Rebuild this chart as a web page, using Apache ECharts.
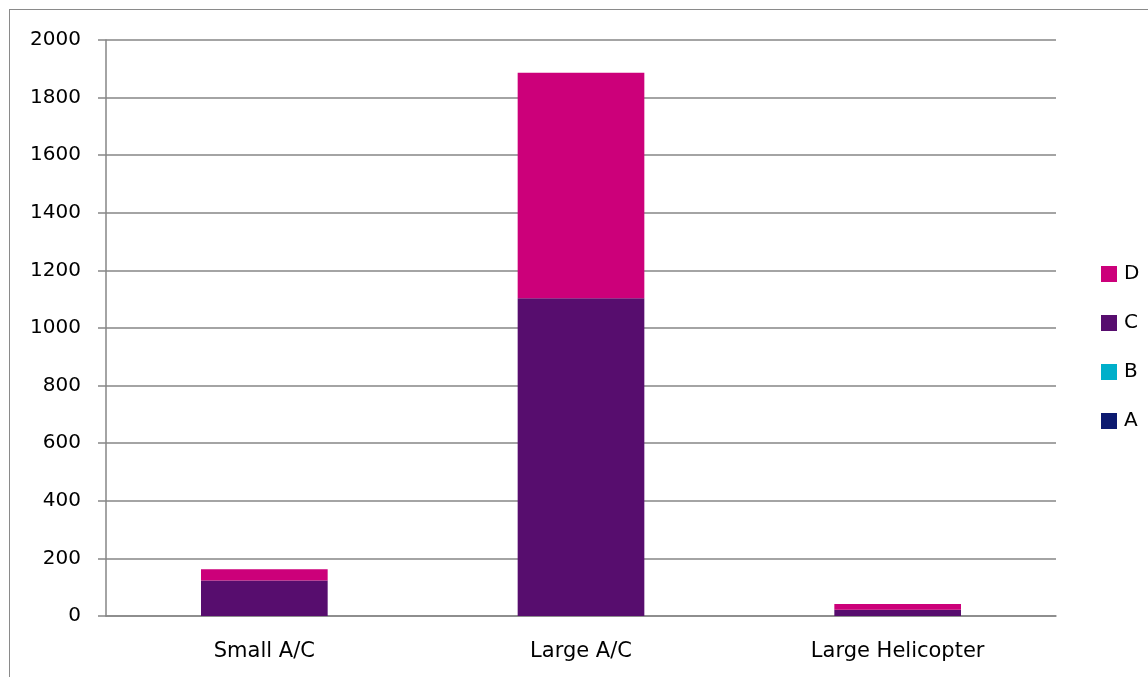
<!DOCTYPE html>
<html><head><meta charset="utf-8">
<script src="https://cdn.jsdelivr.net/npm/echarts@6/dist/echarts.min.js"></script>
<style>
html,body{margin:0;padding:0;background:#fff;}
#frame{position:absolute;left:9px;top:9px;width:1150px;height:680px;border:1px solid #8a8a8a;box-sizing:border-box;}
#chart{position:absolute;left:0;top:0;width:1148px;height:677px;}
</style></head>
<body>
<div id="frame"></div>
<div id="chart"></div>
<script>
const categories = ['Small A/C', 'Large A/C', 'Large Helicopter'];
const seriesA = [0, 0, 0];
const seriesB = [0, 0, 0];
const seriesC = [123, 1103, 22];
const seriesD = [39, 783, 20];
const yTicks = { min: 0, max: 2000, interval: 200 };
const colors = { A: '#0C1A70', B: '#00AFCA', C: '#570D6E', D: '#CC007A' };

const chart = echarts.init(document.getElementById('chart'));
const font = '"DejaVu Sans", "Open Sans", sans-serif';
function s(name, data) {
  return { name, type: 'bar', stack: 'total', data, barWidth: '40%',
    itemStyle: { color: colors[name] } };
}
chart.setOption({
  animation: false,
  textStyle: { fontFamily: font },
  grid: { left: 106, right: 92, top: 40, bottom: 61 },
  legend: {
    orient: 'vertical', left: 1096, top: 259, itemGap: 29,
    itemWidth: 16, itemHeight: 16, icon: 'rect', itemStyle: { borderWidth: 0 },
    data: ['D', 'C', 'B', 'A'],
    textStyle: { fontSize: 20, color: '#000', fontFamily: font, padding: [0, 0, 0, 2] }
  },
  xAxis: {
    type: 'category', data: categories,
    axisLine: { lineStyle: { color: '#868686', width: 1.5 } },
    axisTick: { length: 9, lineStyle: { color: '#868686', width: 1.5 } },
    axisLabel: { fontSize: 21, color: '#000', margin: 25 }
  },
  yAxis: {
    type: 'value', min: yTicks.min, max: yTicks.max, interval: yTicks.interval,
    axisLine: { show: true, lineStyle: { color: '#868686', width: 1.5 } },
    axisTick: { show: true, length: 8, lineStyle: { color: '#868686', width: 1.5 } },
    splitLine: { lineStyle: { color: '#868686', width: 1.5 } },
    axisLabel: { fontSize: 20, color: '#000', margin: 25, formatter: v => String(v) }
  },
  series: [s('A', seriesA), s('B', seriesB), s('C', seriesC), s('D', seriesD)]
});
</script>
</body></html>
